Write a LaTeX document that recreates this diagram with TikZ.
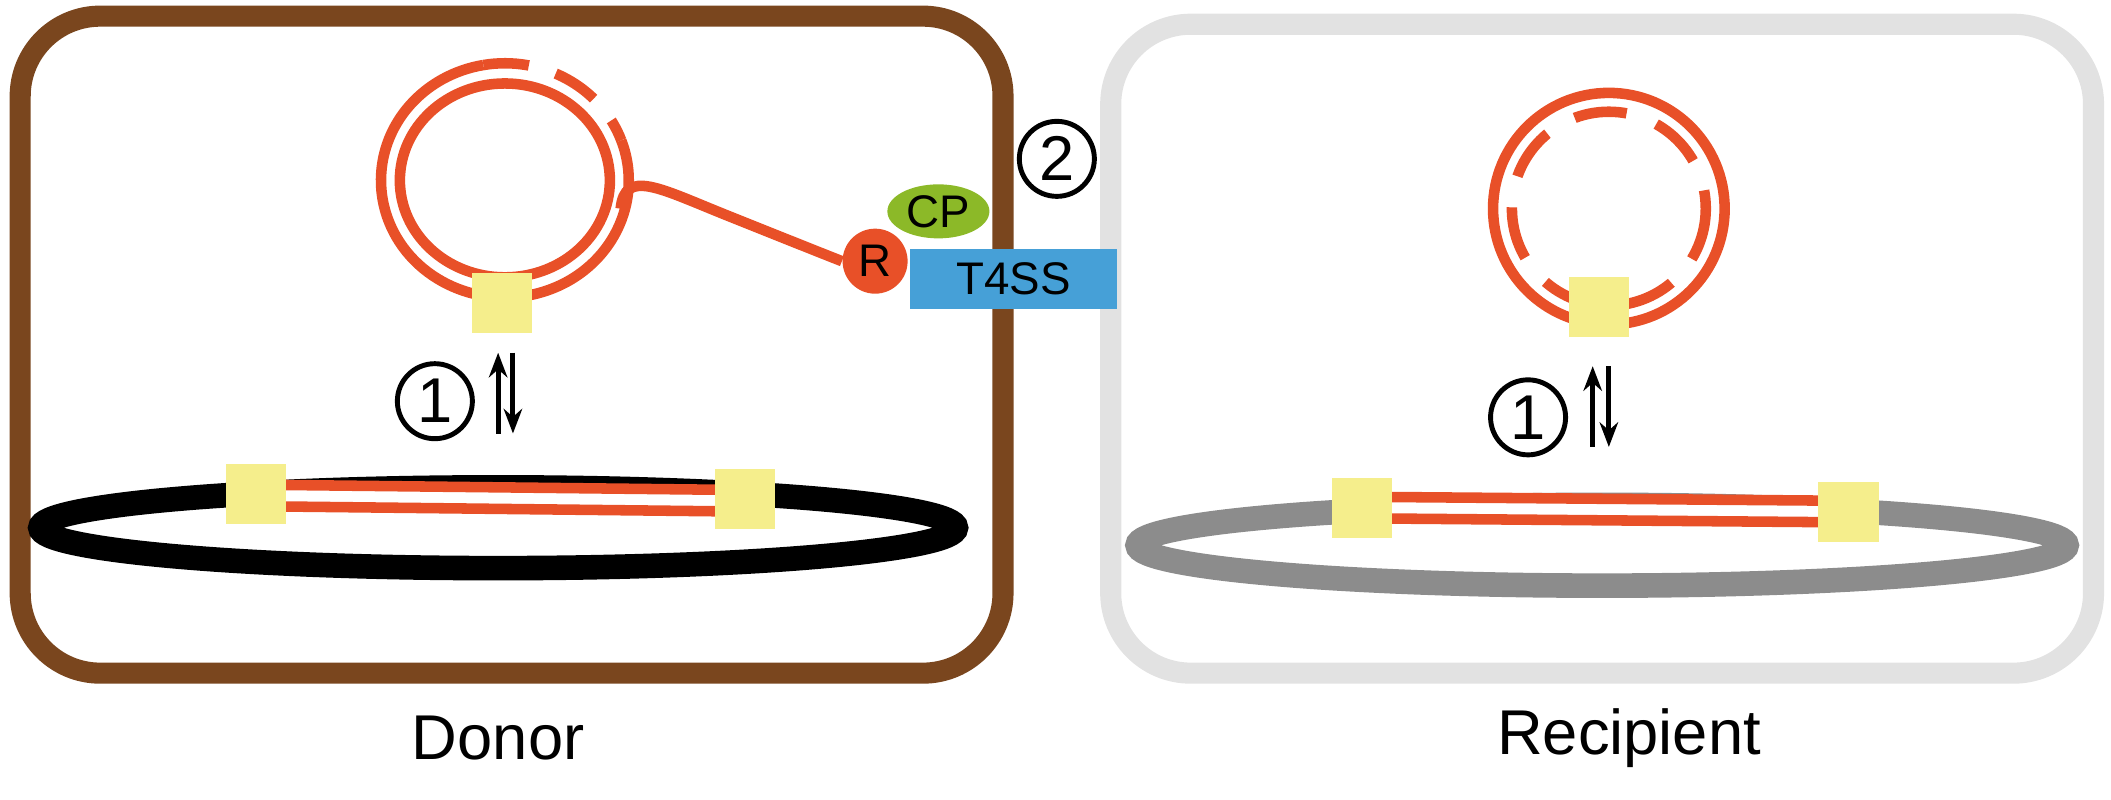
\documentclass[tikz,border=0pt]{standalone}
\usepackage{fontspec}
\setmainfont{Liberation Sans}
\usetikzlibrary{arrows.meta, positioning, shapes.geometric}
\definecolor{brownc}{RGB}{122,70,30}
\definecolor{grayc}{RGB}{226,226,226}
\definecolor{orangec}{RGB}{232,80,40}
\definecolor{yellowc}{RGB}{245,238,140}
\definecolor{greenc}{RGB}{140,185,40}
\definecolor{bluec}{RGB}{70,160,215}
\definecolor{chromc}{RGB}{140,140,140}
\begin{document}
\begin{tikzpicture}[x=0.013463cm, y=-0.013463cm,
    cell/.style={draw, line width=6pt, rounded corners=0.8cm},
    dna/.style={draw=orangec, line width=3pt},
    gap/.style={draw=white, line width=8pt},
    site/.style={fill=yellowc, minimum size=0.6cm, inner sep=0pt},
    num/.style={draw, circle, line width=1.4pt, minimum size=0.75cm, inner sep=0pt, font=\fontsize{18}{18}\selectfont},
    lbl/.style={font=\fontsize{18}{22}\selectfont},
    mv/.style={-{Stealth[length=7pt]}, line width=1.4pt}
]
    \useasboundingbox (0,0) rectangle (1568,594);
    % cells
    \draw[cell, brownc] (15,12) rectangle (745,500);
    \draw[cell, grayc] (825,18) rectangle (1555,500);
    \node[lbl] (donor) at (370,548) {Donor};
    \node[lbl] (recip) at (1210,548) {Recipient};
    % donor chromosome
    \draw[line width=7pt] (370,392) ellipse (340 and 30);
    \draw[gap] (190,368) -- (553,372);
    \draw[dna] (190,360) -- (553,364);
    \draw[dna] (190,376) -- (553,380);
    \node[site] (sd1) at (190,367) {};
    \node[site] (sd2) at (553,371) {};
    % donor plasmid
    \draw[dna] (375,134) ellipse (78 and 72);
    \draw[dna] (375,134) ++(-20:92 and 87) arc[start angle=-20, end angle=260, x radius=92, y radius=87];
    \draw[dna, dash pattern=on 13pt off 8pt] (375,134) ++(-100:92 and 87) arc[start angle=-100, end angle=-20, x radius=92, y radius=87];
    \node[site] (sp) at (373,225) {};
    \coordinate (tail) at (461,155);
    % transfer machinery
    \node[fill=bluec, minimum width=2.07cm, minimum height=0.6cm, inner sep=0pt,
        font=\fontsize{13}{13}\selectfont] (t4ss) at (753,207) {T4SS};
    \node[ellipse, fill=greenc, minimum width=1.02cm, minimum height=0.54cm, inner sep=0pt,
        font=\fontsize{13}{13}\selectfont] (cp) at (697,157) {CP};
    \node[circle, fill=orangec, minimum size=0.65cm, inner sep=0pt,
        font=\fontsize{13}{13}\selectfont] (relax) at (650,194) {R};
    \draw[dna] (tail) .. controls (464,125) and (490,140) .. (540,160)
        .. controls (590,180) and (610,188) .. (relax.west);
    \node[num] (n2) at (785,118) {2};
    \node[num] (n1d) at (323,298) {1};
    \coordinate (ad1) at (370,322); \coordinate (ad2) at (370,262);
    \coordinate (ad3) at (381,262); \coordinate (ad4) at (381,322);
    \draw[mv] (ad1) -- (ad2);
    \draw[mv] (ad3) -- (ad4);
    % recipient chromosome
    \draw[chromc, line width=7pt] (1190,405) ellipse (345 and 30);
    \draw[gap] (1012,377) -- (1373,380);
    \draw[dna] (1012,369) -- (1373,372);
    \draw[dna] (1012,385) -- (1373,388);
    \node[site] (sr1) at (1012,377) {};
    \node[site] (sr2) at (1373,380) {};
    % recipient plasmid
    \draw[dna] (1195,155) ellipse (86 and 86);
    \draw[dna, dash pattern=on 15pt off 9pt] (1195,155) ellipse (72 and 72);
    \node[site] (sq) at (1188,228) {};
    \node[num] (n1r) at (1135,310) {1};
    \coordinate (ar1) at (1183,332); \coordinate (ar2) at (1183,272);
    \coordinate (ar3) at (1195,272); \coordinate (ar4) at (1195,332);
    \draw[mv] (ar1) -- (ar2);
    \draw[mv] (ar3) -- (ar4);
\end{tikzpicture}
\end{document}
